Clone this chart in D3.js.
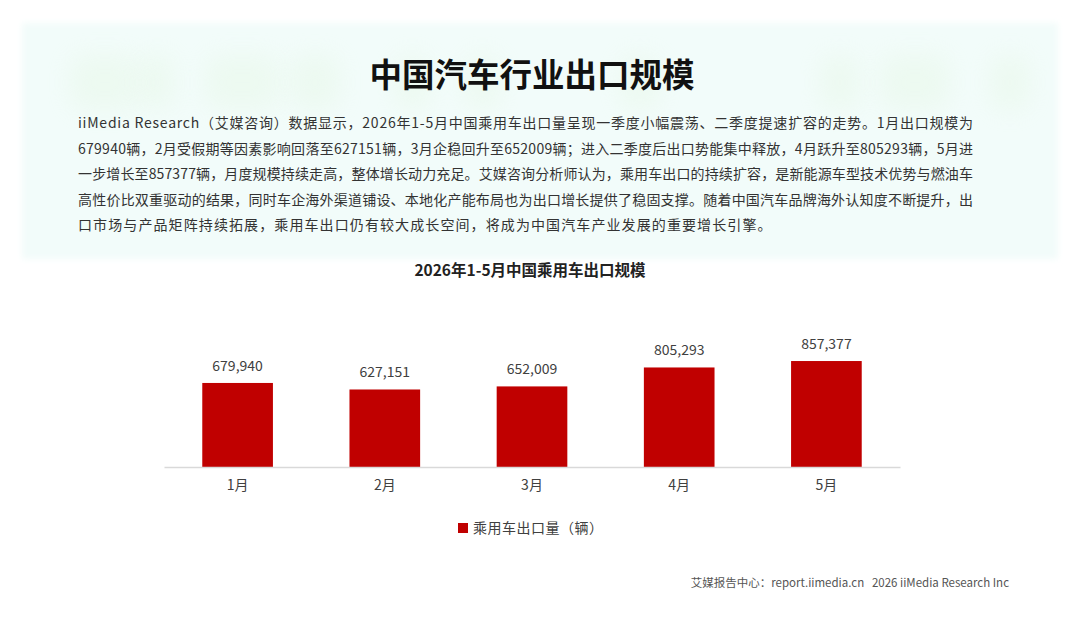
<!DOCTYPE html>
<html>
<head>
<meta charset="utf-8">
<script src="https://cdn.jsdelivr.net/npm/d3@7"></script>
<style>
  body { margin: 0; background: #fff; }
  svg { display: block; font-family: "Noto Sans CJK SC", "Noto Sans", sans-serif; }
</style>
</head>
<body>
<svg width="1080" height="623"></svg>
<script>
var months = ["1月", "2月", "3月", "4月", "5月"];
var exports = [679940, 627151, 652009, 805293, 857377];
var seriesName = "乘用车出口量（辆）";
var mainTitle = "中国汽车行业出口规模";
var chartTitle = "2026年1-5月中国乘用车出口规模";
var paragraph = [
    "iiMedia Research（艾媒咨询）数据显示，2026年1-5月中国乘用车出口量呈现一季度小幅震荡、二季度提速扩容的走势。1月出口规模为",
    "679940辆，2月受假期等因素影响回落至627151辆，3月企稳回升至652009辆；进入二季度后出口势能集中释放，4月跃升至805293辆，5月进",
    "一步增长至857377辆，月度规模持续走高，整体增长动力充足。艾媒咨询分析师认为，乘用车出口的持续扩容，是新能源车型技术优势与燃油车",
    "高性价比双重驱动的结果，同时车企海外渠道铺设、本地化产能布局也为出口增长提供了稳固支撑。随着中国汽车品牌海外认知度不断提升，出",
    "口市场与产品矩阵持续拓展，乘用车出口仍有较大成长空间，将成为中国汽车产业发展的重要增长引擎。"
];
var footer = "艾媒报告中心：report.iimedia.cn   2026 iiMedia Research Inc";

var svg = d3.select("svg");

// header panel
var defs = svg.append("defs");
defs.append("filter").attr("id", "soft")
    .attr("x", "-20%").attr("y", "-20%").attr("width", "140%").attr("height", "140%")
    .append("feGaussianBlur").attr("stdDeviation", 3);
defs.append("filter").attr("id", "blob")
    .attr("x", "-50%").attr("y", "-50%").attr("width", "200%").attr("height", "200%")
    .append("feGaussianBlur").attr("stdDeviation", 12);

svg.append("rect")
    .attr("x", 22).attr("y", 23).attr("width", 1036).attr("height", 236)
    .attr("fill", "#f2fcfa")
    .attr("filter", "url(#soft)");

var blobs = [[70, 140], [140, 175], [205, 280], [290, 340], [395, 430], [465, 500], [620, 660], [820, 860], [880, 950], [990, 1030]];
svg.append("g").selectAll("rect").data(blobs).join("rect")
    .attr("x", function(d) { return d[0]; })
    .attr("y", 55)
    .attr("width", function(d) { return d[1] - d[0]; })
    .attr("height", 55)
    .attr("rx", 12)
    .attr("fill", "#e3f5e0")
    .attr("opacity", 0.35)
    .attr("filter", "url(#blob)");

svg.append("text")
    .attr("x", 532).attr("y", 87)
    .attr("text-anchor", "middle")
    .attr("font-size", 32.5).attr("font-weight", "bold")
    .attr("fill", "#111")
    .text(mainTitle);

svg.append("g").selectAll("text").data(paragraph).join("text")
    .attr("x", 78)
    .attr("y", function(d, i) { return 128 + i * 25.5; })
    .attr("font-size", 14)
    .attr("fill", "#333")
    .each(function(d, i) {
        if (i < paragraph.length - 1) {
            d3.select(this).attr("textLength", 895).attr("lengthAdjust", "spacing");
        } else {
            d3.select(this).attr("letter-spacing", 1.1);
        }
    })
    .text(function(d) { return d; });

// chart
svg.append("text")
    .attr("x", 530).attr("y", 276)
    .attr("text-anchor", "middle")
    .attr("font-size", 15.5).attr("font-weight", "bold")
    .attr("fill", "#222")
    .text(chartTitle);

var x = d3.scaleBand()
    .domain(months)
    .range([164, 900])
    .paddingInner(0.52)
    .paddingOuter(0.26);

var y = d3.scaleLinear()
    .domain([0, 1000000])
    .range([467, 343.4]);

svg.append("g").selectAll("rect").data(exports).join("rect")
    .attr("x", function(d, i) { return x(months[i]); })
    .attr("y", function(d) { return y(d); })
    .attr("width", x.bandwidth())
    .attr("height", function(d) { return y(0) - y(d); })
    .attr("fill", "#c00000");

svg.append("g").selectAll("text").data(exports).join("text")
    .attr("x", function(d, i) { return x(months[i]) + x.bandwidth() / 2; })
    .attr("y", function(d) { return y(d) - 12; })
    .attr("text-anchor", "middle")
    .attr("font-size", 14)
    .attr("fill", "#404040")
    .text(function(d) { return d3.format(",")(d); });

var xAxis = svg.append("g")
    .attr("transform", "translate(0," + y(0) + ")")
    .call(d3.axisBottom(x).tickSize(0).tickPadding(13));
xAxis.select(".domain").attr("stroke", "#d9d9d9").attr("stroke-width", 1.5);
xAxis.selectAll("text")
    .attr("font-size", 14)
    .attr("font-family", "\"Noto Sans CJK SC\", sans-serif")
    .attr("fill", "#404040");

// legend
var legend = svg.append("g").attr("transform", "translate(458,523)");
legend.append("rect").attr("width", 10).attr("height", 10).attr("fill", "#c00000");
legend.append("text")
    .attr("x", 15).attr("y", 10)
    .attr("font-size", 14)
    .attr("letter-spacing", 0.5)
    .attr("fill", "#404040")
    .text(seriesName);

svg.append("text")
    .attr("x", 1009).attr("y", 587)
    .attr("text-anchor", "end")
    .attr("font-size", 11.5)
    .attr("fill", "#555")
    .attr("xml:space", "preserve")
    .text(footer);
</script>
</body>
</html>
